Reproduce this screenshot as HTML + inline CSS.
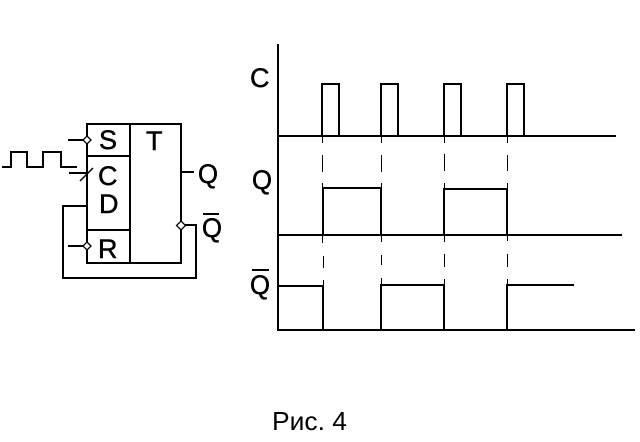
<!DOCTYPE html>
<html>
<head>
<meta charset="utf-8">
<style>
html,body{margin:0;padding:0;background:#fff;width:640px;height:442px;overflow:hidden}
svg{display:block}
text{font-family:"Liberation Sans",sans-serif;fill:#000}
.t{stroke:#000;stroke-width:.5px}
</style>
</head>
<body>
<svg width="640" height="442" viewBox="0 0 640 442" xmlns="http://www.w3.org/2000/svg">
<g fill="none" stroke="#000" stroke-width="2" shape-rendering="crispEdges">
  <!-- flip-flop -->
  <rect x="87" y="124" width="94" height="139"/>
  <path d="M130 124V263M87 156H130M87 230H130"/>
  <path d="M68 140H87M68 246H87M69 173H87M181 172H194"/>
  <path d="M87 206H63V278H196V225H181"/>
  <path d="M2 167H11V152H27V167H43V152H61V167H77"/>
  <!-- axes and waveforms -->
  <path d="M278 44V330H635"/>
  <path d="M278 136H616"/>
  <path d="M322 136V84H339V136M381 136V84H398V136M444 136V84H461V136M507 136V84H524V136"/>
  <path d="M278 235H622"/>
  <path d="M323 235V188H381V235M444 235V189H507V235"/>
  <path d="M278 286H323V330M381 330V285H444V330M507 330V285H574"/>
  <path d="M203 214H219M252 270H269"/>
</g>
<g fill="none" stroke="#000" stroke-width="1" shape-rendering="crispEdges">
  <path d="M322.500 136V143M322.500 155V172M322.500 183V188M322.500 235V243M323.500 256V268M323.500 280V286"/>
  <path d="M381.500 136V143M381.500 155V172M381.500 183V188M381.500 235V242M381.500 255V265M381.500 278V285"/>
  <path d="M444.500 136V143M444.500 154V171M444.500 183V189M444.500 235V242M444.500 254V267M444.500 279V285"/>
  <path d="M507.500 136V143M507.500 155V171M507.500 183V189M507.500 235V241M507.500 254V267M507.500 279V285"/>
</g>
<path d="M80 181L93 168" stroke="#000" stroke-width="1.500" fill="none"/>
<g fill="#fff" stroke="#000" stroke-width="1.300">
  <path d="M87 136L91 140L87 144L83 140Z"/>
  <path d="M87 242L91 246L87 250L83 246Z"/>
  <path d="M181 221L185.500 225.500L181 230L176.500 225.500Z"/>
</g>
<g font-size="27" class="t">
  <text x="99" y="149">S</text>
  <text x="98" y="185">C</text>
  <text x="99" y="213">D</text>
  <text x="98" y="258">R</text>
  <text x="146" y="150">T</text>
  <text x="198" y="183" textLength="20" lengthAdjust="spacingAndGlyphs">Q</text>
  <text x="202" y="237" textLength="20" lengthAdjust="spacingAndGlyphs">Q</text>
  <text x="250" y="87">C</text>
  <text x="252" y="189" textLength="20" lengthAdjust="spacingAndGlyphs">Q</text>
  <text x="250" y="294" textLength="20" lengthAdjust="spacingAndGlyphs">Q</text>
</g>
<text x="272" y="430" font-size="26" textLength="75" lengthAdjust="spacingAndGlyphs">Рис. 4</text>
</svg>
</body>
</html>
